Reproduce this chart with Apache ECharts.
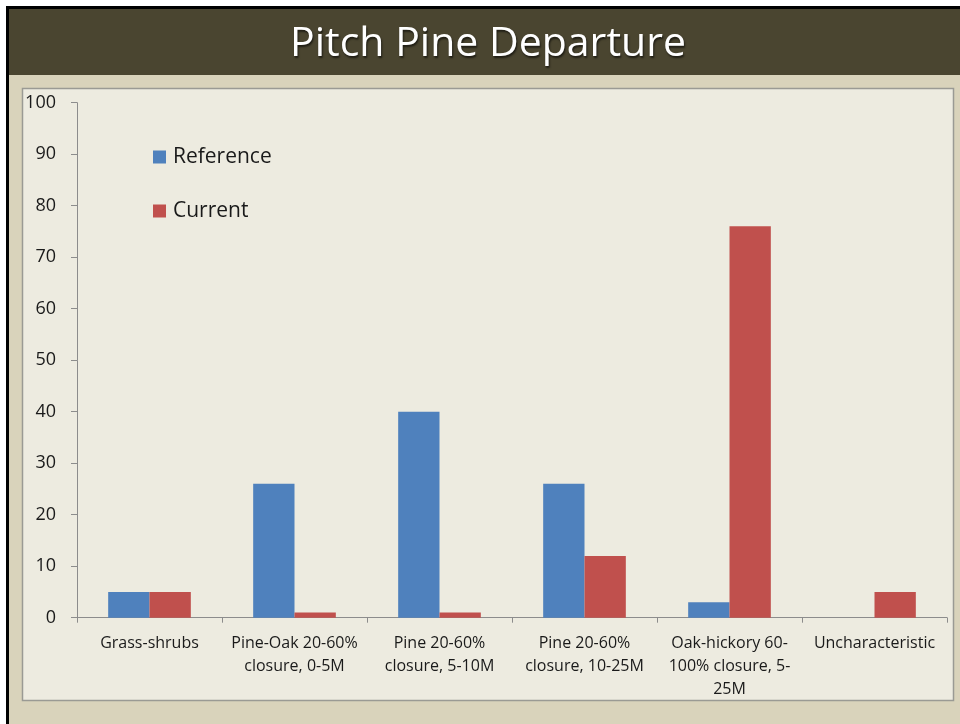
<!DOCTYPE html>
<html>
<head>
<meta charset="utf-8">
<script src="https://cdn.jsdelivr.net/npm/echarts@6/dist/echarts.min.js"></script>
<style>
html,body{margin:0;padding:0;background:#fff;}
#chart{width:960px;height:724px;}
</style>
</head>
<body>
<div id="chart"></div>
<script>
var titleText = 'Pitch Pine Departure';
var categories = [
  'Grass-shrubs',
  'Pine-Oak 20-60%\nclosure, 0-5M',
  'Pine 20-60%\nclosure, 5-10M',
  'Pine 20-60%\nclosure, 10-25M',
  'Oak-hickory 60-\n100% closure, 5-\n25M',
  'Uncharacteristic'
];
var referenceValues = [5, 26, 40, 26, 3, 0];
var currentValues = [5, 1, 1, 12, 76, 5];
var seriesNames = ['Reference', 'Current'];
var yTicks = {min: 0, max: 100, interval: 10};

var FONT = '"Open Sans", sans-serif';
var chart = echarts.init(document.getElementById('chart'), null, {renderer: 'canvas'});
chart.setOption({
  animation: false,
  textStyle: {fontFamily: FONT},
  graphic: [
    {type: 'rect', z: -10, shape: {x: 6, y: 6, width: 960, height: 724}, style: {fill: '#000000'}, silent: true},
    {type: 'rect', z: -9, shape: {x: 9, y: 9, width: 960, height: 66}, style: {fill: '#4A4530'}, silent: true},
    {type: 'rect', z: -9, shape: {x: 9, y: 75, width: 960, height: 660}, style: {fill: '#D9D3BB'}, silent: true},
    {type: 'rect', z: -8, shape: {x: 22.5, y: 88.5, width: 931, height: 612}, style: {fill: '#EDEBE0', stroke: '#9A9A94', lineWidth: 1.5}, silent: true},
    {type: 'text', z: 10, x: 488, y: 44, style: {text: titleText, fill: '#FFFFFF', font: '41px "Open Sans", sans-serif', textAlign: 'center', textVerticalAlign: 'middle', textShadowColor: 'rgba(0,0,0,0.6)', textShadowBlur: 2, textShadowOffsetX: 1, textShadowOffsetY: 2}, silent: true}
  ],
  legend: {
    orient: 'vertical',
    left: 153,
    top: 146,
    padding: 0,
    itemWidth: 13,
    itemHeight: 13,
    itemGap: 32,
    icon: 'rect',
    data: seriesNames,
    textStyle: {fontFamily: FONT, fontSize: 21, color: '#1A1A1A', lineHeight: 22, padding: [0, 0, 0, 2]}
  },
  grid: {left: 77, right: 13, top: 102.7, bottom: 106.3, containLabel: false},
  xAxis: {
    type: 'category',
    data: categories,
    axisLine: {lineStyle: {color: '#8C8C8C', width: 1}},
    axisTick: {show: true, alignWithLabel: false, length: 5, lineStyle: {color: '#8C8C8C'}},
    axisLabel: {interval: 0, margin: 14, fontFamily: FONT, fontSize: 16, color: '#1A1A1A', lineHeight: 23, align: 'center'},
    splitLine: {show: false}
  },
  yAxis: {
    type: 'value',
    min: yTicks.min,
    max: yTicks.max,
    interval: yTicks.interval,
    axisLine: {show: true, lineStyle: {color: '#8C8C8C', width: 1}},
    axisTick: {show: true, length: 6, lineStyle: {color: '#8C8C8C'}},
    axisLabel: {margin: 21, fontFamily: FONT, fontSize: 18, color: '#1A1A1A'},
    splitLine: {show: false}
  },
  series: [
    {name: seriesNames[0], type: 'bar', data: referenceValues, barGap: '0%', barCategoryGap: '43%', itemStyle: {color: '#4F81BD'}},
    {name: seriesNames[1], type: 'bar', data: currentValues, barGap: '0%', barCategoryGap: '43%', itemStyle: {color: '#C0504D'}}
  ]
});
</script>
</body>
</html>
